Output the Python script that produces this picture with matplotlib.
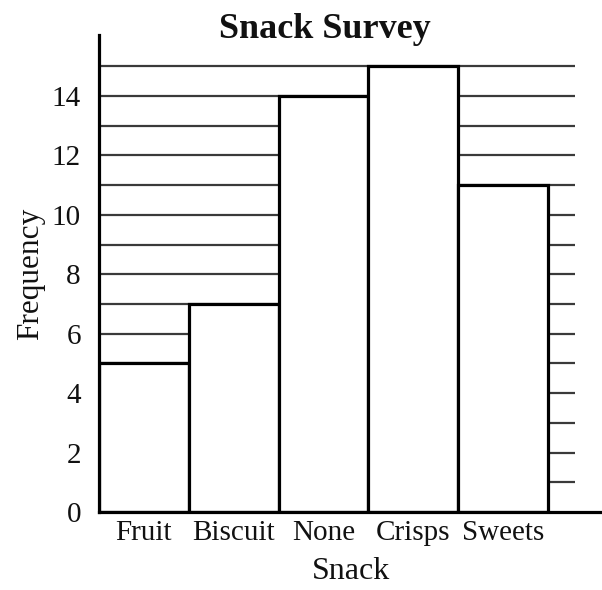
import matplotlib
matplotlib.use("Agg")
import matplotlib.pyplot as plt
import numpy as np

categories = ["Fruit", "Biscuit", "None", "Crisps", "Sweets"]
frequency = [5, 7, 14, 15, 11]
y_ticks = [0, 2, 4, 6, 8, 10, 12, 14]
grid_levels = list(range(1, 16))

plt.rcParams['font.family'] = ['Liberation Serif', 'DejaVu Serif']
W, H = 602, 590
fig = plt.figure(figsize=(W / 100, H / 100), dpi=100)
left, right, bottom, top = 99, 602, 512, 35
ax = fig.add_axes([left / W, 1 - bottom / H, (right - left) / W, (bottom - top) / H])

x = np.arange(len(categories))
ax.hlines(grid_levels, -0.5, 4.8, colors='#3a3a3a', linewidth=1.6, zorder=1)
ax.bar(x, frequency, width=1.0, color='white', edgecolor='black', linewidth=2.3, zorder=2)

ax.set_xlim(-0.5, 5.1)
ax.set_ylim(0, 16.05)
ax.set_yticks(y_ticks)
ax.set_xticks(x)
ax.set_xticklabels(categories)
ax.tick_params(axis='both', length=0, labelsize=21, colors='#111111')
ax.tick_params(axis='y', pad=13)
ax.tick_params(axis='x', pad=6)
for s in ['top', 'right']:
    ax.spines[s].set_visible(False)
for s in ['left', 'bottom']:
    ax.spines[s].set_linewidth(2.3)
    ax.spines[s].set_zorder(3)

ax.set_xlabel("Snack", fontsize=23, color='#111111', labelpad=8)
ax.set_ylabel("Frequency", fontsize=22.5, color='#111111', labelpad=5)
fig.text((218 + 432) / 2 / W, 1 - 29 / H, "Snack Survey", ha='center', va='center',
         fontsize=26, fontweight='bold', color='#111111')

fig.savefig("out.png", dpi=100)
